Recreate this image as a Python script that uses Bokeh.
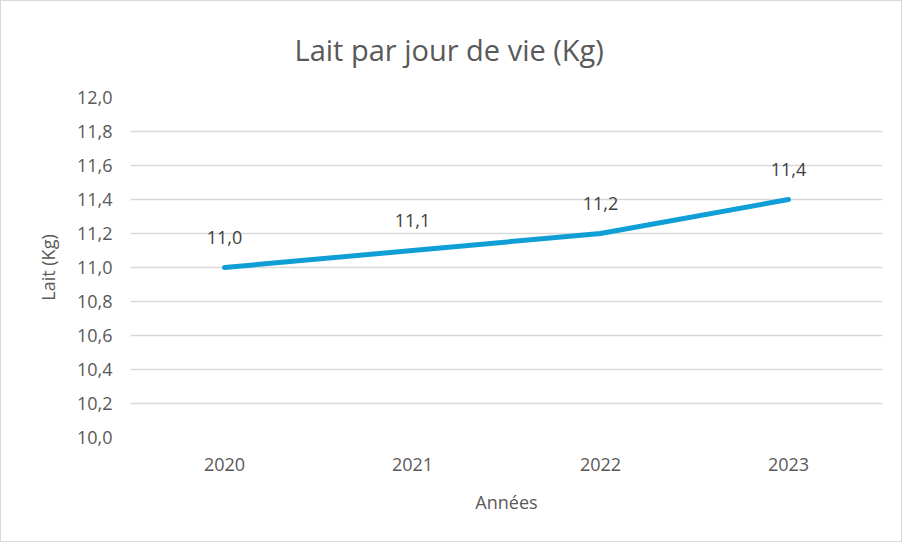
from bokeh.plotting import figure
from bokeh.models import ColumnDataSource, LabelSet, FixedTicker, CustomJSTickFormatter, Title, Range1d
from bokeh.core.properties import value
from bokeh.embed import file_html
from bokeh.resources import INLINE

years = ["2020", "2021", "2022", "2023"]
milk = [11.0, 11.1, 11.2, 11.4]
labels = [f"{v:.1f}".replace(".", ",") for v in milk]
y_ticks = [10.0, 10.2, 10.4, 10.6, 10.8, 11.0, 11.2, 11.4, 11.6, 11.8, 12.0]

FONT = "Open Sans"
src = ColumnDataSource(dict(x=years, y=milk, t=labels))

p = figure(x_range=years, y_range=Range1d(10.0, 12.0), width=902, height=542,
           output_backend="svg", toolbar_location=None,
           min_border_left=129, min_border_right=21, min_border_top=96, min_border_bottom=106)
p.title = None
t = Title(text="Lait par jour de vie (Kg)", align="left", vertical_align="top", text_font=FONT, offset=164,
          text_font_size="29px", text_font_style="normal", text_color="#595959", standoff=54)
p.add_layout(t, "above")

p.line("x", "y", source=src, line_color="#0F9ED5", line_width=5, line_cap="round", line_join="round")
p.add_layout(LabelSet(x="x", y="y", text="t", source=src, y_offset=30, text_align="center",
                      text_baseline="middle", text_font=value(FONT), text_font_size="18px",
                      text_color="#404040"))

p.outline_line_color = None
p.xgrid.grid_line_color = None
p.ygrid.grid_line_color = "#D9D9D9"
p.ygrid.grid_line_width = 1.5
p.yaxis.ticker = FixedTicker(ticks=y_ticks)
p.yaxis.formatter = CustomJSTickFormatter(code="return tick.toFixed(1).replace('.', ',');")

for ax in (p.xaxis, p.yaxis):
    ax.axis_line_color = None
    ax.major_tick_line_color = None
    ax.minor_tick_line_color = None
    ax.major_label_text_font = FONT
    ax.major_label_text_font_size = "18px"
    ax.major_label_text_color = "#595959"
    ax.axis_label_text_font = FONT
    ax.axis_label_text_font_size = "18px"
    ax.axis_label_text_font_style = "normal"
    ax.axis_label_text_color = "#595959"

p.yaxis.axis_label = "Lait (Kg)"
p.xaxis.axis_label = "Années"
p.yaxis.major_label_standoff = 12
p.yaxis.axis_label_standoff = 14
p.xaxis.major_label_standoff = 14
p.xaxis.axis_label_standoff = 16
p.styles = {"border": "1px solid #D9D9D9", "box-sizing": "border-box"}

open("out.html", "w").write(file_html(p, INLINE))
